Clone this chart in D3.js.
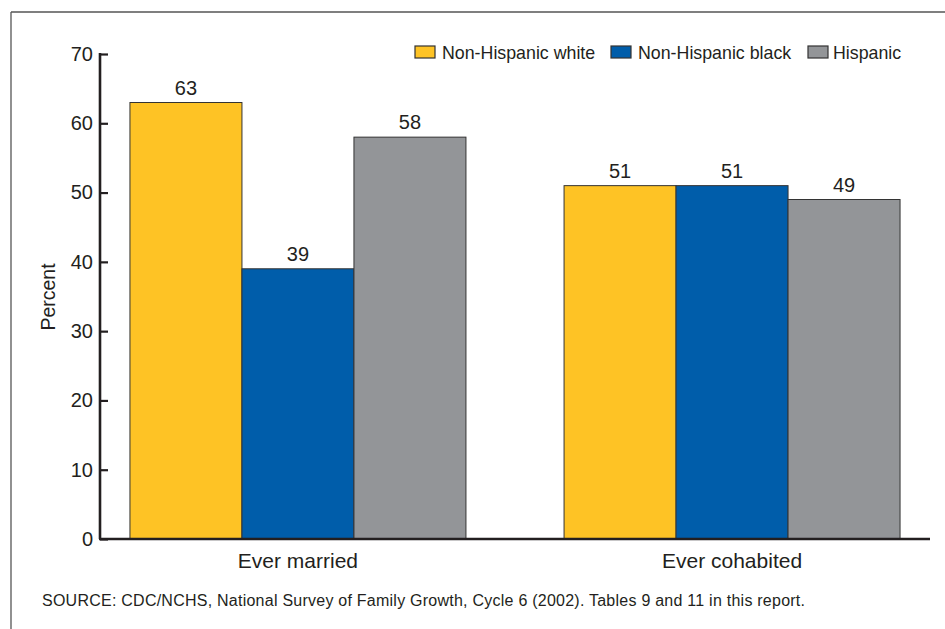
<!DOCTYPE html>
<html>
<head>
<meta charset="utf-8">
<script src="https://cdn.jsdelivr.net/npm/d3@7"></script>
<style>
  body { margin: 0; background: #fff; }
  svg text { font-family: "Liberation Sans", Arial, sans-serif; fill: #231f20; }
</style>
</head>
<body>
<svg width="945" height="629"></svg>
<script>
// chart data
const categories = ['Ever married', 'Ever cohabited']
const groups = ['Non-Hispanic white', 'Non-Hispanic black', 'Hispanic']
const white = [63, 51]
const black = [39, 51]
const hispanic = [58, 49]
const yTicks = [0, 10, 20, 30, 40, 50, 60, 70]
const sourceNote = 'SOURCE: CDC/NCHS, National Survey of Family Growth, Cycle 6 (2002). Tables 9 and 11 in this report.'

const colors = ['#fec325', '#005daa', '#939598']
const seriesValues = [white, black, hispanic]

// rows for the grouped bars
const rows = categories.map((c, i) => ({
  category: c,
  values: groups.map((g, j) => ({ group: g, value: seriesValues[j][i], idx: j }))
}))

const svg = d3.select('svg')

// frame: top and left lines only
svg.append('line').attr('x1', 11).attr('x2', 945).attr('y1', 12).attr('y2', 12)
  .style('stroke', '#555').style('stroke-width', 1.3)
svg.append('line').attr('x1', 11).attr('x2', 11).attr('y1', 12).attr('y2', 629)
  .style('stroke', '#555').style('stroke-width', 1.3)

const plotLeft = 100, plotRight = 930, plotTop = 54, plotBottom = 539

const y = d3.scaleLinear().domain([0, 70]).range([plotBottom, plotTop])

const x0 = d3.scaleBand()
  .domain(categories)
  .range([plotLeft, plotRight])
  .paddingInner(0.226)
  .paddingOuter(0.069)

const x1 = d3.scaleBand()
  .domain(groups)
  .range([0, x0.bandwidth()])

// bars
const groupG = svg.selectAll('g.cat')
  .data(rows)
  .enter()
  .append('g')
  .attr('class', 'cat')
  .attr('transform', d => `translate(${x0(d.category)}, 0)`)

groupG.selectAll('rect')
  .data(d => d.values)
  .enter()
  .append('rect')
  .attr('x', d => x1(d.group))
  .attr('y', d => y(d.value))
  .attr('width', x1.bandwidth())
  .attr('height', d => plotBottom - y(d.value))
  .style('fill', d => colors[d.idx])
  .style('stroke', '#333')
  .style('stroke-width', 1)

groupG.selectAll('text.val')
  .data(d => d.values)
  .enter()
  .append('text')
  .attr('class', 'val')
  .attr('x', d => x1(d.group) + x1.bandwidth() / 2)
  .attr('y', d => y(d.value) - 8)
  .attr('text-anchor', 'middle')
  .style('font-size', '20px')
  .text(d => d.value)

// y axis
const yAxis = svg.append('g')
  .attr('transform', `translate(${plotLeft}, 0)`)
  .call(d3.axisRight(y).tickValues(yTicks).tickSize(8).tickFormat(d3.format('d')))

yAxis.select('.domain').remove()
yAxis.selectAll('.tick line').style('stroke', '#231f20').style('stroke-width', 2.2)
yAxis.selectAll('.tick text')
  .attr('x', -7)
  .attr('text-anchor', 'end')
  .style('font-size', '20px')
  .style('font-family', '"Liberation Sans", Arial, sans-serif')
  .style('fill', '#231f20')

svg.append('line')
  .attr('x1', plotLeft).attr('x2', plotLeft)
  .attr('y1', y(70) - 1).attr('y2', plotBottom)
  .style('stroke', '#231f20').style('stroke-width', 2.6)

// baseline
svg.append('line')
  .attr('x1', plotLeft - 1).attr('x2', plotRight)
  .attr('y1', plotBottom).attr('y2', plotBottom)
  .style('stroke', '#231f20').style('stroke-width', 2.6)

// category labels
svg.selectAll('text.cat-label')
  .data(categories)
  .enter()
  .append('text')
  .attr('class', 'cat-label')
  .attr('x', d => x0(d) + x0.bandwidth() / 2)
  .attr('y', 568)
  .attr('text-anchor', 'middle')
  .style('font-size', '21px')
  .text(d => d)

// y axis title
svg.append('text')
  .attr('transform', 'translate(55, 297) rotate(-90)')
  .attr('text-anchor', 'middle')
  .style('font-size', '19.5px')
  .text('Percent')

// legend
const legendX = [415, 611, 808]
const legend = svg.selectAll('g.legend')
  .data(groups)
  .enter()
  .append('g')
  .attr('class', 'legend')
  .attr('transform', (d, i) => `translate(${legendX[i]}, 46)`)

legend.append('rect')
  .attr('x', 0).attr('y', 0)
  .attr('width', 20).attr('height', 12)
  .style('fill', (d, i) => colors[i])
  .style('stroke', '#333')
  .style('stroke-width', 1.2)

legend.append('text')
  .attr('x', (d, i) => i === 2 ? 25 : 27)
  .attr('y', 12.5)
  .style('font-size', '17.8px')
  .text(d => d)

// source note
svg.append('text')
  .attr('x', 42)
  .attr('y', 606)
  .attr('textLength', 763)
  .attr('lengthAdjust', 'spacing')
  .style('font-size', '16px')
  .text(sourceNote)
</script>
</body>
</html>
